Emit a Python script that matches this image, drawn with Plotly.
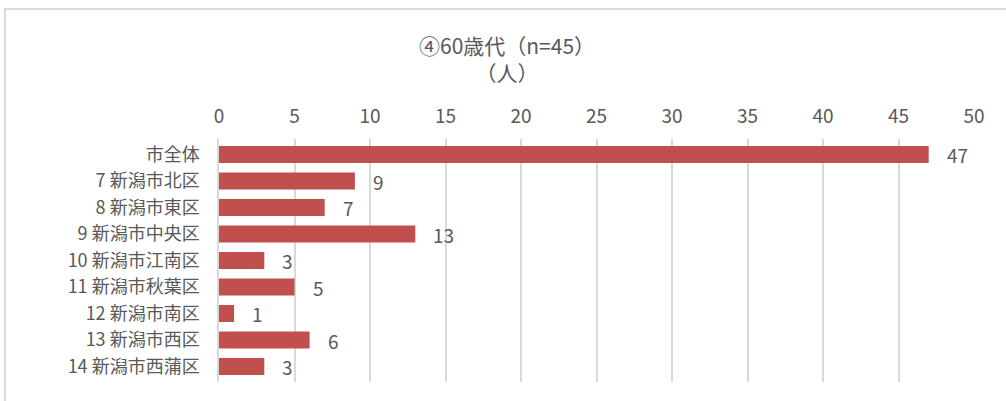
import plotly.graph_objects as go

categories = ["市全体", "7 新潟市北区", "8 新潟市東区", "9 新潟市中央区", "10 新潟市江南区",
              "11 新潟市秋葉区", "12 新潟市南区", "13 新潟市西区", "14 新潟市西蒲区"]
counts = [47, 9, 7, 13, 3, 5, 1, 6, 3]
tick_values = [0, 5, 10, 15, 20, 25, 30, 35, 40, 45, 50]

FONT = "Noto Sans CJK JP"
GRAY = "#595959"
BAR = "#C0504D"

W, H = 1006, 401
ML, MR, MT, MB = 219, 32, 139, 19
pw = W - ML - MR
ph = H - MT - MB

fig = go.Figure()
fig.add_trace(go.Bar(
    x=counts, y=categories, orientation="h",
    marker=dict(color=BAR, line=dict(width=0)),
    hoverinfo="skip",
))

for c, v in zip(categories, counts):
    fig.add_annotation(x=v, y=c, text=str(v), showarrow=False,
                       xanchor="left", yanchor="middle", xshift=16, yshift=0,
                       font=dict(family=FONT, size=19, color=GRAY))

# two-line title, centred over the chart area
fig.add_annotation(x=(507 - ML) / pw, y=(H - MB - 58) / ph, xref="paper", yref="paper",
                   xanchor="center", yanchor="middle", align="center",
                   text="④60歳代（n=45）<br>（人）", showarrow=False,
                   font=dict(family=FONT, size=21, color=GRAY))

# chart area frame
fig.add_shape(type="rect", xref="paper", yref="paper",
              x0=(5 - ML) / pw, x1=(1010 - ML) / pw,
              y0=(H - MB - 410) / ph, y1=(H - MB - 9) / ph,
              line=dict(color="#d9d9d9", width=2), layer="below")

fig.update_layout(
    width=W, height=H,
    margin=dict(l=ML, r=MR, t=MT, b=MB),
    paper_bgcolor="white", plot_bgcolor="white",
    showlegend=False, bargap=0.36,
    font=dict(family=FONT, color=GRAY),
    xaxis=dict(side="top", range=[0, 50], tickvals=tick_values,
               showgrid=True, gridcolor="#d9d9d9", gridwidth=1.5,
               zeroline=False, showline=False, ticks="",
               tickfont=dict(family=FONT, size=19, color=GRAY),
               ticklabelstandoff=11, fixedrange=True),
    yaxis=dict(autorange="reversed", showgrid=False, zeroline=False,
               showline=True, linecolor="#d9d9d9", linewidth=1.5, ticks="",
               tickfont=dict(family=FONT, size=18, color=GRAY),
               ticklabelstandoff=14, fixedrange=True),
)

fig.write_html("out.html")
